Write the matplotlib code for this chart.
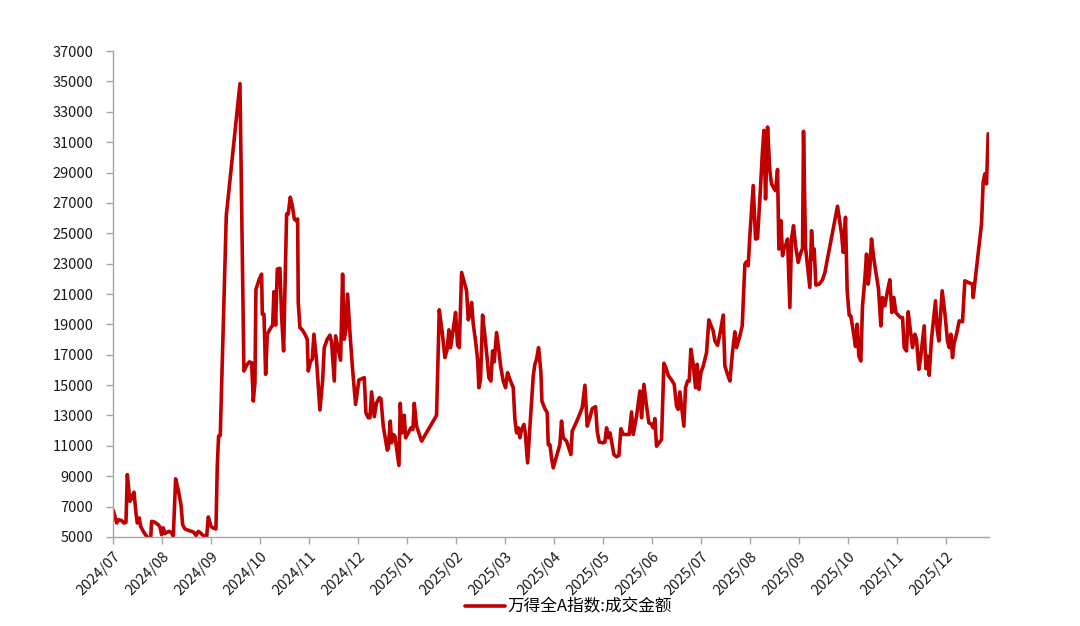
import matplotlib
matplotlib.use('Agg')
import matplotlib.pyplot as plt

plt.rcParams['font.family'] = ['Noto Sans CJK SC', 'DejaVu Sans']

# 月份刻度标签
month_labels = ['2024/07', '2024/08', '2024/09', '2024/10', '2024/11', '2024/12',
                '2025/01', '2025/02', '2025/03', '2025/04', '2025/05', '2025/06',
                '2025/07', '2025/08', '2025/09', '2025/10', '2025/11', '2025/12']

# 横轴：距 2024/07 的月数
t = [0.007, 0.075, 0.109, 0.177, 0.224, 0.265, 0.293, 0.347, 0.381, 0.429,
     0.469, 0.497, 0.537, 0.565, 0.619, 0.687, 0.741, 0.769, 0.789, 0.857,
     0.925, 0.959, 0.993, 1.027, 1.061, 1.095, 1.150, 1.197, 1.231, 1.279,
     1.333, 1.388, 1.422, 1.469, 1.537, 1.605, 1.653, 1.694, 1.741, 1.789,
     1.844, 1.912, 1.946, 2.000, 2.048, 2.102, 2.129, 2.156, 2.190, 2.313,
     2.592, 2.673, 2.728, 2.782, 2.830, 2.864, 2.898, 2.918, 2.986, 3.034,
     3.048, 3.082, 3.116, 3.150, 3.204, 3.259, 3.286, 3.320, 3.354, 3.408,
     3.442, 3.483,
     3.544, 3.578, 3.619, 3.660, 3.701, 3.735, 3.769, 3.782, 3.816, 3.864,
     3.918, 3.966, 3.986, 4.034, 4.068, 4.102, 4.156, 4.224, 4.279, 4.313,
     4.374, 4.429, 4.463, 4.517, 4.544, 4.599, 4.646, 4.687, 4.721, 4.755,
     4.789, 4.837, 4.891, 4.952, 5.020, 5.088, 5.129, 5.163, 5.211, 5.245,
     5.279, 5.333, 5.381, 5.435, 5.469, 5.517, 5.599, 5.619, 5.660, 5.687,
     5.721, 5.755, 5.837, 5.864, 5.898, 5.946, 5.973, 6.027, 6.082, 6.122,
     6.150, 6.197, 6.299, 6.605, 6.660, 6.721, 6.776, 6.823, 6.857, 6.891,
     6.946, 6.993, 7.034, 7.068, 7.116,
     7.163, 7.218, 7.252, 7.286, 7.320, 7.354, 7.401, 7.442, 7.469, 7.503,
     7.544, 7.592, 7.639, 7.673, 7.714, 7.748, 7.782, 7.830, 7.878, 7.912,
     7.966, 8.014, 8.054, 8.102, 8.170, 8.204, 8.238, 8.272, 8.306, 8.340,
     8.388, 8.415, 8.463, 8.524, 8.578, 8.612, 8.646, 8.687, 8.735, 8.755,
     8.816, 8.864, 8.884, 8.918, 8.952, 8.986, 9.054, 9.122, 9.156, 9.190,
     9.259, 9.347, 9.374, 9.429, 9.497, 9.578, 9.633, 9.680, 9.735, 9.782,
     9.850, 9.884, 9.925, 10.007, 10.041, 10.075, 10.109, 10.143, 10.177, 10.224,
     10.279, 10.327, 10.367, 10.415, 10.483, 10.537, 10.585, 10.619, 10.687, 10.755,
     10.789, 10.837, 10.891, 10.939, 10.993, 11.027, 11.061, 11.095, 11.197, 11.245,
     11.286, 11.333, 11.401, 11.456, 11.503, 11.537, 11.571, 11.605, 11.653, 11.687,
     11.728, 11.762, 11.796, 11.844, 11.891, 11.925, 11.959, 12.000, 12.048, 12.082,
     12.116, 12.163, 12.204, 12.252, 12.286, 12.340, 12.388, 12.456, 12.490, 12.544,
     12.592, 12.646, 12.694, 12.728, 12.796, 12.844, 12.898, 12.932, 12.966, 13.000,
     13.068, 13.116, 13.156, 13.204, 13.252, 13.286, 13.320, 13.361, 13.408, 13.442,
     13.497, 13.524, 13.565, 13.592, 13.633, 13.667, 13.701, 13.728, 13.769, 13.816,
     13.850, 13.891, 13.932, 13.986, 14.041, 14.075, 14.095, 14.136, 14.224, 14.259,
     14.293, 14.313, 14.347, 14.415, 14.483, 14.531, 14.789, 14.871, 14.905, 14.952,
     14.986, 15.027, 15.061, 15.109, 15.156, 15.190, 15.224, 15.265, 15.299, 15.347,
     15.381, 15.415, 15.449, 15.483, 15.531, 15.585, 15.626, 15.673, 15.707, 15.755,
     15.803, 15.857, 15.898, 15.939, 15.980, 16.027, 16.075, 16.116, 16.150, 16.197,
     16.231, 16.265, 16.320, 16.367, 16.401, 16.449, 16.483, 16.558, 16.592, 16.619,
     16.660, 16.707, 16.789, 16.823, 16.857, 16.925, 16.980, 17.034, 17.068, 17.102,
     17.136, 17.170, 17.218, 17.272, 17.340, 17.388, 17.456, 17.544, 17.558, 17.728,
     17.762, 17.796, 17.830, 17.864]

# 成交金额（亿元）
v = [6760, 5920, 6140, 6080, 5920, 5960, 9110, 7350, 7570, 7950,
     6580, 5920, 6250, 5700, 5370, 5040, 4900, 4900, 6030, 5970,
     5800, 5660, 5150, 5600, 5220, 5300, 5370, 5260, 5040, 8830,
     8080, 7130, 5800, 5530, 5440, 5370, 5300, 5090, 5370, 5260,
     5090, 5000, 6320, 5700, 5590, 5530, 9660, 11640, 11690, 26160,
     34850, 15930, 16300, 16530, 16480, 13950, 15160, 21300, 21980, 22310,
     19670, 19670, 15710, 18350, 18680, 18950, 21150, 18950, 22640, 22690,
     19560, 17250,
     26270, 26270, 27370, 26820, 25940, 25830, 25940, 20440, 18790, 18640,
     18350, 18020, 15930, 16590, 16700, 18350, 16590, 13360, 15270, 17470,
     18020, 18290, 17800, 15270, 18240, 17360, 16640, 22310, 18020, 18680,
     20990, 18460, 16040, 13730, 15340, 15430, 15490, 13180, 12850, 12850,
     14550, 12920, 13840, 14170, 14110, 12300, 10720, 10810, 12630, 11200,
     11750, 11640, 9710, 13800, 11860, 13010, 11530, 11860, 12190, 12080,
     13800, 12300, 11310, 13010, 19960, 18460, 16810, 17360, 18640, 17470,
     18680, 19780, 17620, 17470, 22420,
     21870, 21210, 19300, 19670, 20440, 19010, 17910, 16700, 14830, 15380,
     19610, 18240, 16700, 15490, 15270, 17250, 16530, 18460, 17250, 16260,
     15270, 14830, 15820, 15380, 14830, 12740, 11860, 12190, 11530, 12080,
     12410, 11860, 9880, 12960, 15600, 16370, 16700, 17470, 15820, 13950,
     13450, 13180, 11090, 11090, 10210, 9550, 10320, 11090, 12630, 11530,
     11310, 10430, 11970, 12350, 12850, 13510, 14990, 12300, 12850, 13450,
     13580, 11970, 11250, 11200, 11250, 12190, 11530, 11860, 11310, 10430,
     10280, 10370, 12130, 11750, 11750, 11750, 13230, 11750, 12960, 14610,
     12850, 15050, 13620, 12520, 12410, 12190, 12790, 10980, 11420, 16440,
     16150, 15650, 15340, 15050, 13620, 13400, 14550, 13620, 12300, 14830,
     15270, 15270, 17360, 16370, 14830, 16370, 14720, 15820, 16260, 16700,
     17140, 19300, 18950, 18570, 17910, 17620, 18350, 19610, 16260, 15710,
     15270, 17190, 18510, 17470, 18240, 18900, 22970, 23130, 22860, 24840,
     28140, 24620, 24660, 27260, 30120, 31770, 27260, 31990, 29130, 28250,
     27920, 27810, 29200, 23960, 25830, 23520, 24070, 24180, 24620, 20110,
     24620, 25500, 24180, 23080, 23740, 24000, 31710, 24070, 21430, 25170,
     23300, 23960, 21590, 21650, 21940, 22420, 26780, 24950, 23740, 26050,
     21210, 19610, 19560, 18570, 17540, 19010, 16920, 16590, 20220, 21980,
     23630, 21650, 22640, 24620, 23300, 22200, 21320, 18900, 20770, 20220,
     21100, 21940, 19780, 20770, 19780, 19610, 19450, 19450, 17470, 17250,
     19830, 18900, 17470, 18350, 18020, 16040, 16750, 18900, 16090, 16920,
     15650, 18020, 20550, 18680, 17910, 21210, 19740, 17910, 17470, 18350,
     16810, 17800, 18350, 19230, 19170, 21870, 21760, 21650, 20770, 25610,
     28360, 28910, 28250, 31550]

fig = plt.figure(figsize=(10.8, 6.26), dpi=100)
ax = fig.add_axes([0.1046, 0.1422, 0.8111, 0.7763])

ax.plot(t, v, color='#C00000', lw=2.6, solid_joinstyle='round', solid_capstyle='round',
        label='万得全A指数:成交金额')

ax.set_xlim(0, 17.88)
ax.set_ylim(5000, 37000)
ax.set_yticks(range(5000, 37001, 2000))
ax.set_xticks(range(len(month_labels)))
ax.set_xticklabels(month_labels, rotation=45, ha='right', va='top', rotation_mode='anchor')

for s in ['top', 'right']:
    ax.spines[s].set_visible(False)
for s in ['left', 'bottom']:
    ax.spines[s].set_color('#A6A6A6')
    ax.spines[s].set_linewidth(1.0)
ax.tick_params(axis='both', colors='#A6A6A6', labelcolor='#1a1a1a', length=5, width=1.0, labelsize=10.5)
ax.tick_params(axis='y', pad=9)
ax.tick_params(axis='x', pad=4)

fig.legend(loc='center', bbox_to_anchor=(0.526, 0.030), frameon=False, fontsize=12,
           handlelength=2.4, handletextpad=0.15)

fig.savefig('out.png', dpi=100)
